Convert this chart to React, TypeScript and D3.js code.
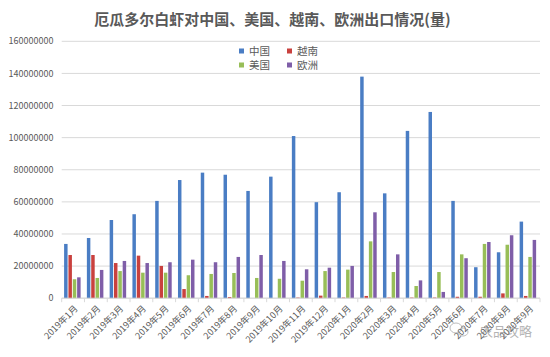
import React from "react";
import * as d3 from "d3";

const categories = [
  "2019年1月", "2019年2月", "2019年3月", "2019年4月", "2019年5月", "2019年6月",
  "2019年7月", "2019年8月", "2019年9月", "2019年10月", "2019年11月", "2019年12月",
  "2020年1月", "2020年2月", "2020年3月", "2020年4月", "2020年5月", "2020年6月",
  "2020年7月", "2020年8月", "2020年9月",
];
const seriesNames = ["中国", "越南", "美国", "欧洲"];
const china = [33.8, 37.5, 48.7, 52.3, 60.6, 73.6, 78.2, 76.9, 66.8, 75.7, 101, 59.8, 66, 138, 65.3, 104.2, 116, 60.6, 19.3, 28.6, 47.7].map((v) => v * 1e6);
const vietnam = [26.9, 26.9, 21.9, 26.5, 20.1, 5.7, 1.4, 0.7, 0, 0, 0.4, 1.6, 0.4, 1.4, 0.4, 0.4, 0.4, 0.9, 0.9, 3.0, 1.4].map((v) => v * 1e6);
const usa = [11.8, 12.6, 16.9, 15.9, 15.9, 14.3, 15.1, 15.7, 12.6, 12.1, 10.9, 16.9, 17.8, 35.4, 16.3, 7.6, 16.3, 27.3, 33.8, 33.3, 25.7].map((v) => v * 1e6);
const europe = [13.0, 17.6, 23.2, 21.9, 22.4, 24.0, 22.4, 25.7, 26.9, 23.2, 18.0, 19.0, 20.1, 53.5, 27.3, 11.1, 3.9, 24.9, 35.0, 39.2, 36.3].map((v) => v * 1e6);
const yTicks = [0, 20000000, 40000000, 60000000, 80000000, 100000000, 120000000, 140000000, 160000000];
const colors = ["#4A7DC4", "#C9413E", "#98BE58", "#7F5EA8"];
const title = "厄瓜多尔白虾对中国、美国、越南、欧洲出口情况(量)";

const W = 550;
const H = 357;
const left = 61.7;
const right = 540;
const top = 41.3;
const bottom = 298.2;
const font = "'Noto Sans CJK SC', 'Noto Sans', sans-serif";

export default function App() {
  const allSeries = [china, vietnam, usa, europe];
  const x0 = d3.scaleBand<string>().domain(categories).range([left, right]).padding(0);
  const x1 = d3.scaleBand<string>().domain(seriesNames).range([2.4, 18.9]).paddingInner(0.2).paddingOuter(0);
  const y = d3.scaleLinear().domain([0, 160000000]).range([bottom, top]);

  const legendItems = [
    { name: "中国", col: 0, row: 0, c: colors[0] },
    { name: "越南", col: 1, row: 0, c: colors[1] },
    { name: "美国", col: 0, row: 1, c: colors[2] },
    { name: "欧洲", col: 1, row: 1, c: colors[3] },
  ];

  return (
    <svg width={W} height={H} style={{ position: "absolute", left: 0, top: 0, background: "#fff" }} fontFamily={font}>
      <rect x={0} y={0} width={W} height={H} fill="#fff" />
      <text x={272.5} y={25} textAnchor="middle" fontSize={15} fontWeight="bold" fill="#595959">{title}</text>

      {/* gridlines */}
      {yTicks.map((t) => (
        <line key={t} x1={left} x2={right} y1={y(t)} y2={y(t)} stroke="#D9D9D9" strokeWidth={1} />
      ))}
      {yTicks.map((t) => (
        <text key={"l" + t} x={53.5} y={y(t)} dy="0.35em" textAnchor="end" fontSize={9} fill="#595959">{t}</text>
      ))}

      {/* bars */}
      {allSeries.map((s, si) =>
        s.map((v, i) => {
          const h = bottom - y(v);
          if (v <= 0) return null;
          return (
            <rect key={si + "-" + i}
              x={(x0(categories[i]) as number) + (x1(seriesNames[si]) as number)}
              y={y(v)} width={x1.bandwidth()} height={h} fill={colors[si]} />
          );
        })
      )}

      {/* x axis */}
      <line x1={left} x2={right} y1={bottom} y2={bottom} stroke="#D9D9D9" />
      {categories.map((c) => (
        <line key={"t" + c} x1={x0(c) as number} x2={x0(c) as number} y1={bottom} y2={bottom + 4} stroke="#D9D9D9" />
      ))}
      <line x1={right} x2={right} y1={bottom} y2={bottom + 4} stroke="#D9D9D9" />
      {categories.map((c) => {
        const cx = (x0(c) as number) + x0.bandwidth() / 2 + 3;
        const cy = 307;
        return (
          <text key={"x" + c} transform={`translate(${cx},${cy}) rotate(-45)`} textAnchor="end" fontSize={9} fill="#595959" dy="0.35em">{c}</text>
        );
      })}

      {/* legend */}
      {legendItems.map((d) => (
        <g key={d.name} transform={`translate(${239 + d.col * 48},${51 + d.row * 14})`}>
          <rect x={0} y={-2.5} width={5} height={5} fill={d.c} />
          <text x={10} y={0} dy="0.35em" fontSize={10.5} fill="#595959">{d.name}</text>
        </g>
      ))}

      {/* watermark */}
      <g opacity={0.55}>
        <ellipse cx={456} cy={328} rx={6} ry={5} fill="none" stroke="#888" strokeWidth={1} />
        <ellipse cx={463} cy={332} rx={5} ry={4} fill="none" stroke="#888" strokeWidth={1} />
        <text x={480} y={336} fontSize={13} fill="#777">农品攻略</text>
      </g>
    </svg>
  );
}
